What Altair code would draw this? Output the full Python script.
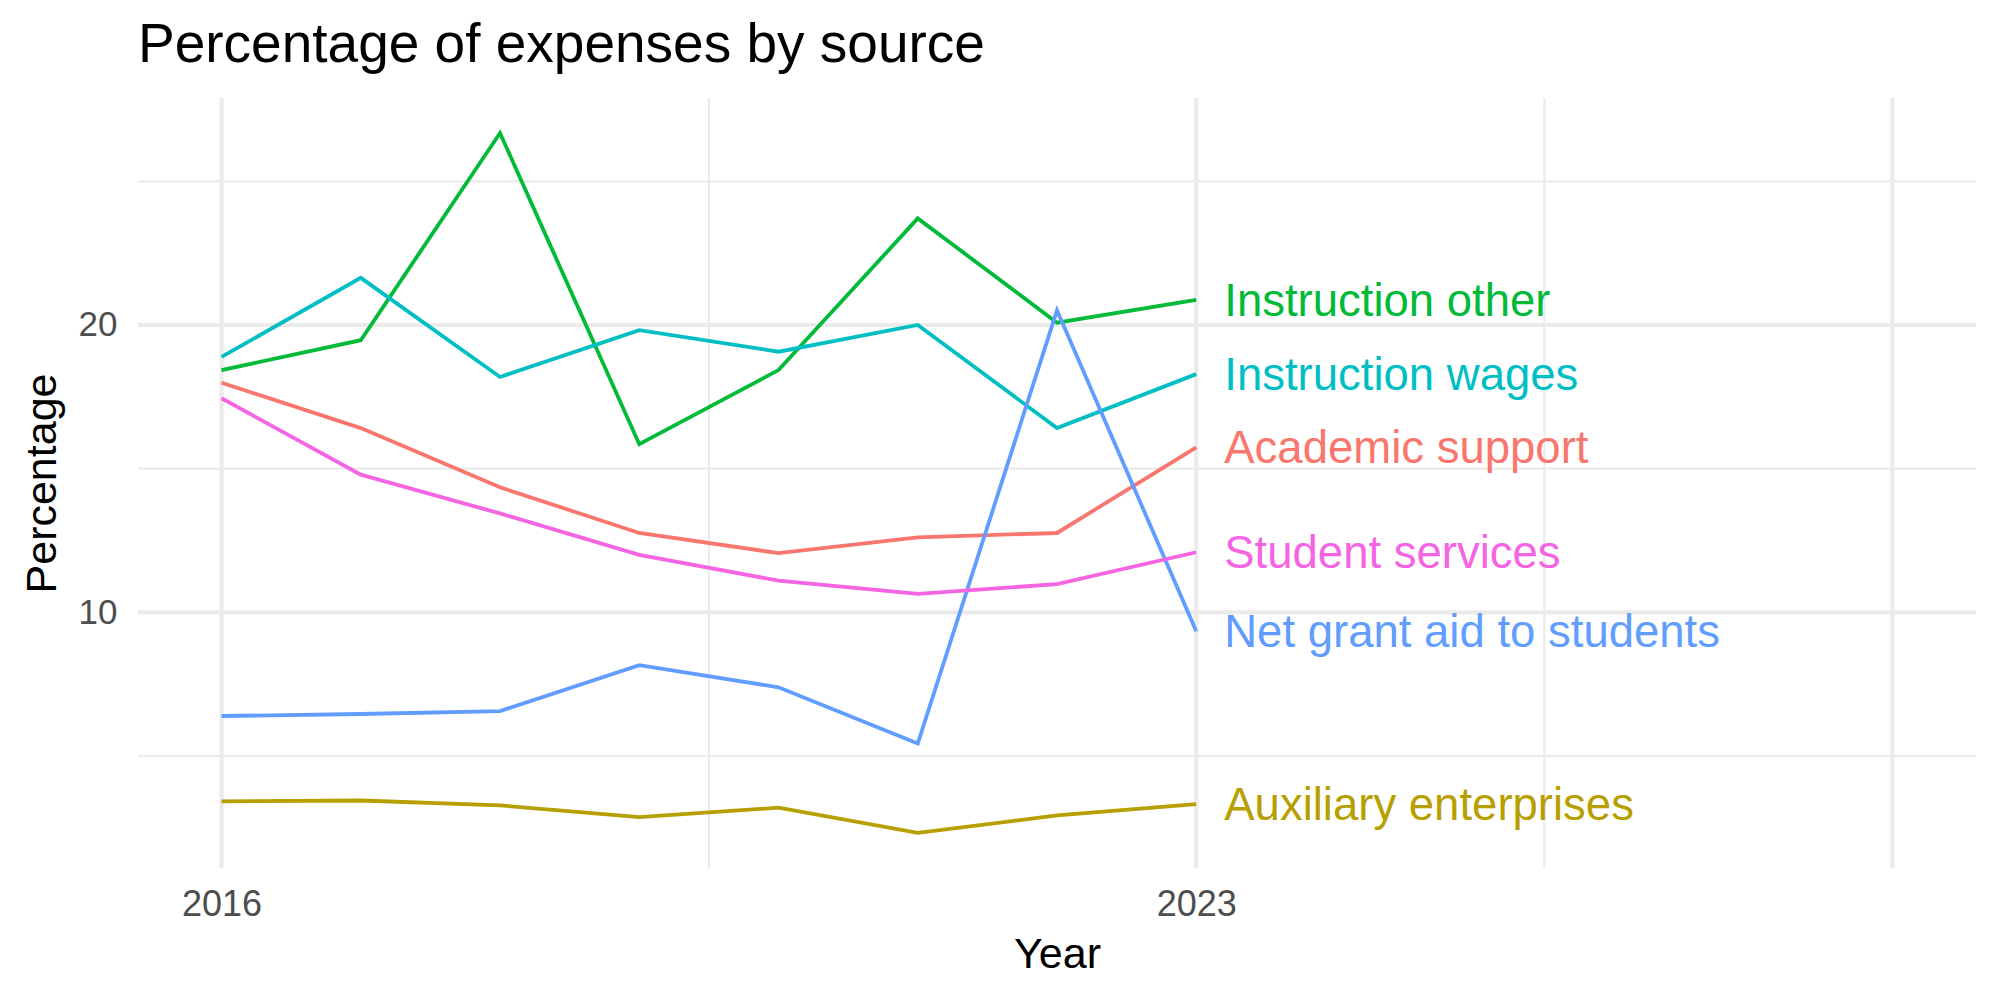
import altair as alt
import pandas as pd

# Share of total expenses, by source, 2016-2023
years = [2016, 2017, 2018, 2019, 2020, 2021, 2022, 2023]
academic_support = [17.99, 16.41, 14.35, 12.76, 12.06, 12.61, 12.76, 15.74]
auxiliary_enterprises = [3.42, 3.45, 3.28, 2.87, 3.20, 2.32, 2.93, 3.32]
instruction_other = [18.43, 19.47, 26.68, 15.85, 18.43, 23.71, 20.08, 20.87]
instruction_wages = [18.89, 21.64, 18.19, 19.82, 19.07, 20.00, 16.41, 18.29]
net_grant_aid = [6.39, 6.46, 6.56, 8.16, 7.39, 5.43, 20.51, 9.34]
student_services = [17.45, 14.79, 13.44, 12.00, 11.10, 10.64, 10.98, 12.09]

sources = [
    "Academic support",
    "Auxiliary enterprises",
    "Instruction other",
    "Instruction wages",
    "Net grant aid to students",
    "Student services",
]
series = [
    academic_support,
    auxiliary_enterprises,
    instruction_other,
    instruction_wages,
    net_grant_aid,
    student_services,
]
palette = ["#F8766D", "#B79F00", "#00BA38", "#00BFC4", "#619CFF", "#F564E3"]

# Axis breaks and grid positions
x_breaks = [2016, 2023]
x_major_grid = [2016, 2023, 2028]
x_minor_grid = [2019.5, 2025.5]
y_major_grid = [10, 20]
y_minor_grid = [5, 15, 25]
x_domain = [2015.4, 2028.6]
y_domain = [1.1, 27.9]

rows = []
for name, vals in zip(sources, series):
    for yr, v in zip(years, vals):
        rows.append({"Year": yr, "Percentage": v, "Source": name})
df = pd.DataFrame(rows)
last = df[df["Year"] == years[-1]]

FONT = "Liberation Sans"
W, H = 1838, 770
GRID = "#EBEBEB"

xs = alt.Scale(domain=x_domain, nice=False, zero=False)
ys = alt.Scale(domain=y_domain, nice=False, zero=False)

x_axis = alt.Axis(
    values=x_breaks, format="d", grid=False, domain=False, ticks=False,
    tickSize=0, labelFontSize=36, labelColor="#4D4D4D", labelPadding=19,
    labelFont=FONT, title="Year", titleFontSize=43, titleFont=FONT,
    titleFontWeight="normal", titleColor="black", titleX=W / 2, titleY=99,
    titleAlign="center", titleBaseline="alphabetic",
)
y_axis = alt.Axis(
    values=y_major_grid, grid=False, domain=False, ticks=False, tickSize=0,
    labelFontSize=35, labelColor="#4D4D4D", labelPadding=21, labelFont=FONT,
    title="Percentage", titleFontSize=43, titleFont=FONT,
    titleFontWeight="normal", titleColor="black", titleAngle=270,
    titleX=-83, titleY=H / 2, titleAlign="center", titleBaseline="alphabetic",
)

def vgrid(values, width):
    return alt.Chart(pd.DataFrame({"Year": values})).mark_rule(
        color=GRID, strokeWidth=width
    ).encode(x=alt.X("Year:Q", scale=xs, axis=x_axis))

def hgrid(values, width):
    return alt.Chart(pd.DataFrame({"Percentage": values})).mark_rule(
        color=GRID, strokeWidth=width
    ).encode(y=alt.Y("Percentage:Q", scale=ys, axis=y_axis))

color = alt.Color(
    "Source:N", scale=alt.Scale(domain=sources, range=palette), legend=None
)

lines = alt.Chart(df).mark_line(strokeWidth=3.8).encode(
    x=alt.X("Year:Q", scale=xs, axis=x_axis),
    y=alt.Y("Percentage:Q", scale=ys, axis=y_axis),
    color=color,
    detail="Source:N",
)

labels = alt.Chart(last).mark_text(
    align="left", baseline="middle", dx=28, dy=2, fontSize=45.5, font=FONT
).encode(
    x=alt.X("Year:Q", scale=xs, axis=x_axis),
    y=alt.Y("Percentage:Q", scale=ys, axis=y_axis),
    text="Source:N",
    color=color,
)

chart = alt.layer(
    vgrid(x_minor_grid, 2.2),
    hgrid(y_minor_grid, 2.2),
    vgrid(x_major_grid, 4.2),
    hgrid(y_major_grid, 4.2),
    lines,
    labels,
).properties(
    width=W,
    height=H,
    title=alt.TitleParams(
        "Percentage of expenses by source",
        anchor="start", frame="group", fontSize=55, font=FONT,
        fontWeight="normal", color="black", baseline="alphabetic", offset=35,
        dy=56,
    ),
    autosize=alt.AutoSizeParams(type="none"),
    padding={"left": 138, "top": 98, "right": 24, "bottom": 132},
    background="white",
).configure_view(stroke=None)

chart.save("out.html", embed_options={"renderer": "svg", "actions": False})
